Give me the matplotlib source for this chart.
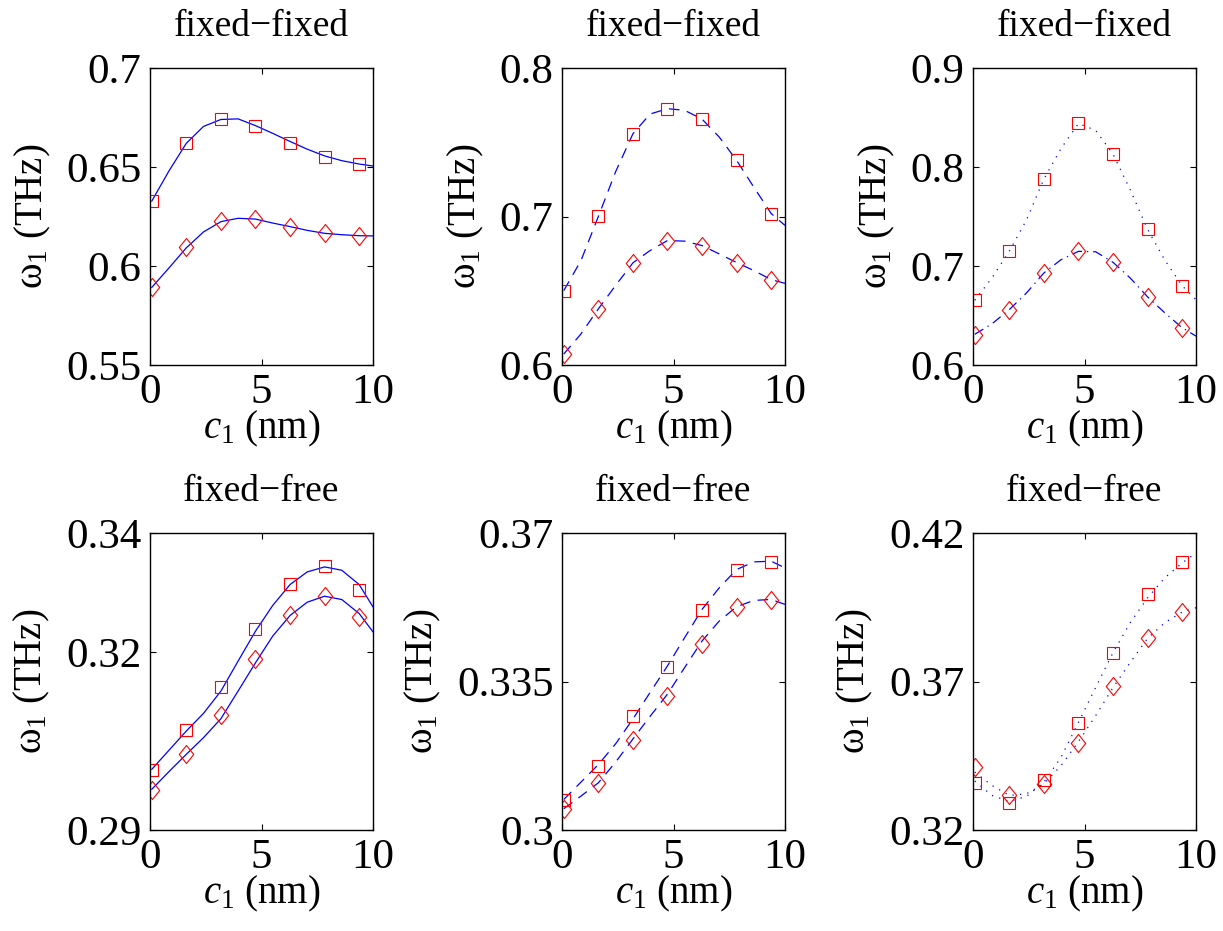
import matplotlib
matplotlib.use('Agg')
import matplotlib.pyplot as plt
from matplotlib.path import Path

plt.rcParams['font.family'] = ['Liberation Serif', 'DejaVu Serif']
plt.rcParams['mathtext.fontset'] = 'custom'
plt.rcParams['mathtext.rm'] = 'Liberation Serif'
plt.rcParams['mathtext.it'] = 'Liberation Serif:italic'

# c_1 positions of the discrete (marker) results
c_md = [0.08, 1.63, 3.18, 4.73, 6.28, 7.83, 9.38]
# c_1 positions at which the continuous curves were read
c_fit = [0.08, 0.85, 1.63, 2.4, 3.18, 3.95, 4.73, 5.5, 6.28, 7.05, 7.83, 8.6, 9.38, 10.0]

# ---- fixed-fixed ----
ff1_sq = [0.6328, 0.6623, 0.6744, 0.6709, 0.6623, 0.6552, 0.6514]
ff1_di = [0.5892, 0.6094, 0.6226, 0.6237, 0.6199, 0.6165, 0.6153]
ff1_sq_fit = [0.6328, 0.6480, 0.6620, 0.6705, 0.6740, 0.6743, 0.6709, 0.6670,
              0.6629, 0.6590, 0.6556, 0.6532, 0.6515, 0.6505]
ff1_di_fit = [0.5892, 0.5990, 0.6092, 0.6172, 0.6224, 0.6241, 0.6237, 0.6217,
              0.6199, 0.6180, 0.6165, 0.6158, 0.6153, 0.6152]

ff2_sq = [0.6501, 0.7002, 0.7557, 0.7726, 0.7656, 0.7378, 0.7020]
ff2_di = [0.6074, 0.6378, 0.6688, 0.6838, 0.6804, 0.6690, 0.6575]
ff2_sq_fit = [0.6501, 0.6703, 0.7000, 0.7300, 0.7557, 0.7690, 0.7726, 0.7715,
              0.7656, 0.7535, 0.7378, 0.7198, 0.7020, 0.6940]
ff2_di_fit = [0.6074, 0.6209, 0.6378, 0.6535, 0.6688, 0.6771, 0.6838, 0.6834,
              0.6804, 0.6748, 0.6690, 0.6636, 0.6575, 0.6550]

ff3_sq = [0.6654, 0.7151, 0.7879, 0.8440, 0.8131, 0.7372, 0.6795]
ff3_di = [0.6302, 0.6560, 0.6930, 0.7154, 0.7037, 0.6688, 0.6376]
ff3_sq_fit = [0.6654, 0.6880, 0.7151, 0.7466, 0.7879, 0.8188, 0.8440, 0.8370,
              0.8130, 0.7770, 0.7370, 0.7060, 0.6800, 0.6660]
ff3_di_fit = [0.6310, 0.6416, 0.6560, 0.6728, 0.6930, 0.7064, 0.7148, 0.7144,
              0.7037, 0.6879, 0.6688, 0.6527, 0.6376, 0.6292]

# ---- fixed-free ----
fr1_sq = [0.30011, 0.30683, 0.31406, 0.32387, 0.33148, 0.33440, 0.33036]
fr1_di = [0.29675, 0.30275, 0.30930, 0.31871, 0.32627, 0.32947, 0.32588]
fr1_sq_fit = [0.30022, 0.30342, 0.30667, 0.30964, 0.31339, 0.31843, 0.32347, 0.32779,
              0.33132, 0.33345, 0.33429, 0.33373, 0.33132, 0.32756]
fr1_di_fit = [0.29686, 0.29983, 0.30275, 0.30555, 0.30874, 0.31339, 0.31815, 0.32263,
              0.32611, 0.32835, 0.32936, 0.32880, 0.32644, 0.32336]

fr2_sq = [0.30697, 0.31519, 0.32678, 0.33845, 0.35183, 0.36139, 0.36311]
fr2_di = [0.30485, 0.31112, 0.32130, 0.33163, 0.34377, 0.35262, 0.35418]
fr2_sq_fit = [0.30720, 0.31128, 0.31542, 0.32028, 0.32615, 0.33242, 0.33868, 0.34534,
              0.35199, 0.35708, 0.36139, 0.36319, 0.36335, 0.36178]
fr2_di_fit = [0.30501, 0.30799, 0.31112, 0.31597, 0.32145, 0.32678, 0.33202, 0.33829,
              0.34455, 0.34925, 0.35262, 0.35411, 0.35434, 0.35317]

fr3_sq = [0.33588, 0.32906, 0.33700, 0.35591, 0.37973, 0.39931, 0.41016]
fr3_di = [0.34114, 0.33186, 0.33532, 0.34931, 0.36832, 0.38454, 0.39338]
fr3_sq_fit = [0.33650, 0.33163, 0.32962, 0.33130, 0.33611, 0.34450, 0.35624, 0.36799,
              0.37973, 0.38980, 0.39819, 0.40490, 0.40993, 0.41330]
fr3_di_fit = [0.33950, 0.33499, 0.33163, 0.33220, 0.33555, 0.34170, 0.34975, 0.35848,
              0.36799, 0.37638, 0.38454, 0.38980, 0.39338, 0.39483]

titles = ['fixed\u2212fixed'] * 3 + ['fixed\u2212free'] * 3
ylims = [(0.55, 0.7), (0.6, 0.8), (0.6, 0.9), (0.29, 0.34), (0.3, 0.37), (0.32, 0.42)]
yticks = [[0.55, 0.6, 0.65, 0.7], [0.6, 0.7, 0.8], [0.6, 0.7, 0.8, 0.9],
          [0.29, 0.32, 0.34], [0.3, 0.335, 0.37], [0.32, 0.37, 0.42]]
ytick_labels = [['0.55', '0.6', '0.65', '0.7'], ['0.6', '0.7', '0.8'], ['0.6', '0.7', '0.8', '0.9'],
                ['0.29', '0.32', '0.34'], ['0.3', '0.335', '0.37'], ['0.32', '0.37', '0.42']]

DASH = (0, (8.5, 6))
DOT = (0, (1, 5))
DASHDOT = (0, (8, 4, 1, 4))

panels = [
    (ff1_sq, ff1_di, ff1_sq_fit, ff1_di_fit, '-', '-'),
    (ff2_sq, ff2_di, ff2_sq_fit, ff2_di_fit, DASH, DASH),
    (ff3_sq, ff3_di, ff3_sq_fit, ff3_di_fit, DOT, DASHDOT),
    (fr1_sq, fr1_di, fr1_sq_fit, fr1_di_fit, '-', '-'),
    (fr2_sq, fr2_di, fr2_sq_fit, fr2_di_fit, DASH, DASH),
    (fr3_sq, fr3_di, fr3_sq_fit, fr3_di_fit, DOT, DOT),
]

diamond = Path([(0, 1), (0.8, 0), (0, -1), (-0.8, 0), (0, 1)],
               [Path.MOVETO, Path.LINETO, Path.LINETO, Path.LINETO, Path.CLOSEPOLY])

W, H = 1223, 931
fig = plt.figure(figsize=(W / 100, H / 100), dpi=100)
lefts = [150, 562, 973]
tops = [68, 533]
aw, ah = 223, 297

for i, (sq, di, sq_fit, di_fit, ls_sq, ls_di) in enumerate(panels):
    r, c = divmod(i, 3)
    ax = fig.add_axes([lefts[c] / W, 1 - (tops[r] + ah) / H, aw / W, ah / H])
    ax.plot(c_fit, sq_fit, color='blue', linestyle=ls_sq, linewidth=0.9)
    ax.plot(c_fit, di_fit, color='blue', linestyle=ls_di, linewidth=0.9)
    ax.plot(c_md, sq, linestyle='none', marker='s', markersize=9,
            markerfacecolor='none', markeredgecolor='red', markeredgewidth=0.8)
    ax.plot(c_md, di, linestyle='none', marker=diamond, markersize=13,
            markerfacecolor='none', markeredgecolor='red', markeredgewidth=0.8)
    ax.set_xlim(0, 10)
    ax.set_ylim(*ylims[i])
    ax.set_xticks([0, 5, 10])
    ax.set_yticks(yticks[i])
    ax.set_yticklabels(ytick_labels[i])
    ax.tick_params(direction='in', length=4, width=0.8, top=True, right=True,
                   labelsize=31, pad=6)
    for s in ax.spines.values():
        s.set_linewidth(1.0)
    ax.set_title(titles[i], fontsize=27, pad=23)
    ax.set_xlabel(r'$c_{\mathit{1}}$ (nm)', fontsize=28, labelpad=-2)
    ax.set_ylabel(r'$\mathrm{\omega}_{\mathit{1}}$ (THz)', fontsize=28, labelpad=10)

fig.savefig('out.png', dpi=100)
